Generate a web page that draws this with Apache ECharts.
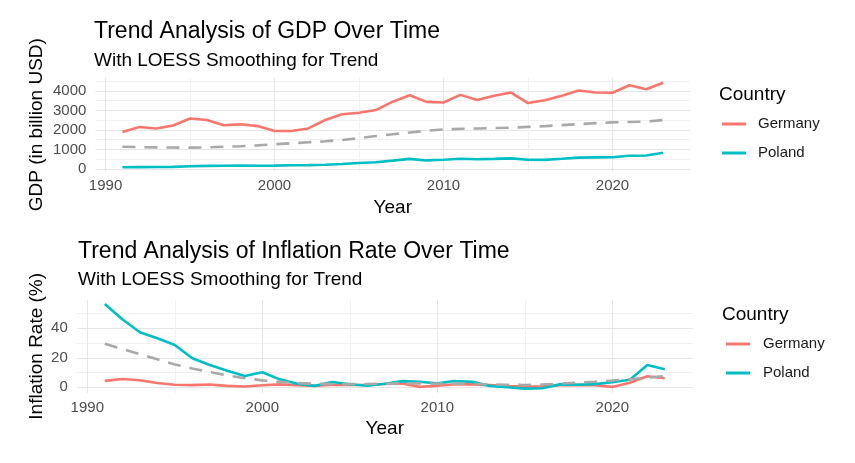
<!DOCTYPE html>
<html>
<head>
<meta charset="utf-8">
<script src="https://cdn.jsdelivr.net/npm/echarts@6/dist/echarts.min.js"></script>
<style>
html,body{margin:0;padding:0;background:#fff;}
#chart{width:855px;height:463px;}
</style>
</head>
<body>
<div id="chart"></div>
<script>
const years = [1991,1992,1993,1994,1995,1996,1997,1998,1999,2000,2001,2002,2003,2004,2005,2006,2007,2008,2009,2010,2011,2012,2013,2014,2015,2016,2017,2018,2019,2020,2021,2022,2023];

const gdpGermany = [1900,2150,2080,2230,2590,2510,2240,2290,2200,1950,1950,2080,2510,2810,2880,3020,3450,3780,3440,3410,3800,3540,3750,3920,3380,3520,3760,4020,3920,3910,4290,4090,4420];
const gdpPoland  = [90,95,100,110,145,160,165,180,170,175,195,200,220,255,305,345,430,520,440,475,525,500,520,545,475,470,525,585,595,600,680,690,830];
const gdpTrend   = [1140,1120,1110,1100,1095,1110,1140,1170,1210,1270,1320,1370,1420,1490,1580,1690,1780,1870,1960,2030,2060,2080,2100,2120,2160,2200,2250,2300,2350,2390,2410,2430,2510];

const inflGermany = [4.4,5.6,4.8,2.9,1.8,1.5,1.9,1.0,0.6,1.4,2.0,1.4,1.0,1.7,1.6,1.6,2.3,2.6,0.3,1.1,2.1,2.0,1.5,0.9,0.5,0.5,1.5,1.7,1.4,0.3,3.1,7.5,6.1];
const inflPoland  = [56.5,46.1,37.3,33.2,28.7,19.7,15.1,11.3,7.7,10.2,5.4,2.4,1.0,3.6,2.1,1.1,2.4,4.2,3.8,2.7,4.3,3.7,1.0,0.1,-0.9,-0.6,2.0,1.8,2.2,3.4,5.1,15.1,12.2];
const inflTrend   = [29.5,26.0,22.5,19.0,15.5,12.8,10.4,8.1,6.2,4.7,3.7,2.9,2.4,2.2,2.2,2.3,2.5,2.7,2.7,2.6,2.5,2.3,2.0,1.7,1.6,1.9,2.5,3.2,3.8,4.6,5.5,6.6,7.6];

const countries = ['Germany','Poland'];
const xTicks = [1990,1995,2000,2005,2010,2015,2020];
const xLabels = [1990,2000,2010,2020];
const gdpTicks = [0,500,1000,1500,2000,2500,3000,3500,4000,4500];
const gdpLabels = [0,1000,2000,3000,4000];
const inflTicks = [0,10,20,30,40,50];
const inflLabels = [0,20,40];

const pairs = (vals) => years.map((y,i) => [y, vals[i]]);

const FONT = 'Liberation Sans, Arial, sans-serif';
const RED = '#F8766D', CYAN = '#00BFC4', GREY = '#A9A9A9';
const gridColors = ['#e6e6e6','#f1f1f1'];
const plain = (v) => String(v);

function xAxisCfg(gridIndex, nameGap){
  return {
    type:'value', gridIndex, min:1989.4, max:2024.6,
    name:'Year', nameLocation:'middle', nameGap,
    nameTextStyle:{fontFamily:FONT,fontSize:19,color:'#000',lineHeight:19},
    axisLine:{show:false},
    axisTick:{show:false, customValues:xTicks},
    axisLabel:{customValues:xLabels, formatter:plain, fontFamily:FONT, fontSize:15, color:'#4d4d4d', margin:7, lineHeight:15},
    splitLine:{show:true, lineStyle:{color:gridColors, width:1}}
  };
}
function yAxisCfg(gridIndex, name, min, max, ticks, labels, nameGap){
  return {
    type:'value', gridIndex, min, max,
    name, nameLocation:'middle', nameGap, nameRotate:90, nameMoveOverlap:false,
    nameTextStyle:{fontFamily:FONT,fontSize:19,color:'#000',lineHeight:19},
    axisLine:{show:false},
    axisTick:{show:false, customValues:ticks},
    axisLabel:{customValues:labels, formatter:plain, fontFamily:FONT, fontSize:15, color:'#4d4d4d', margin:9},
    splitLine:{show:true, lineStyle:{color:gridColors, width:1}}
  };
}
function lineSeries(name, data, color, xi, dashed){
  return {
    type:'line', name, xAxisIndex:xi, yAxisIndex:xi, data,
    symbol:'none', silent:true, animation:false, z: dashed ? 3 : 2,
    lineStyle:{color, width:2.6, type: dashed ? [13,9] : 'solid'},
    itemStyle:{color}
  };
}
const titleStyle = (size) => ({fontFamily:FONT, fontSize:size, fontWeight:'normal', color:'#000', lineHeight:size});
const legendIcon = 'path://M0,0 L24,0 L24,3 L0,3 Z';

const option = {
  backgroundColor:'#fff',
  animation:false,
  title:[
    {text:'Trend Analysis of GDP Over Time', left:94, top:20, padding:0, textStyle:titleStyle(23)},
    {text:'With LOESS Smoothing for Trend', left:94, top:51, padding:0, textStyle:titleStyle(19)},
    {text:'Trend Analysis of Inflation Rate Over Time', left:78, top:240, padding:0, textStyle:titleStyle(23)},
    {text:'With LOESS Smoothing for Trend', left:78, top:270, padding:0, textStyle:titleStyle(19)},
    {text:'Country', left:719, top:85, padding:0, textStyle:titleStyle(19)},
    {text:'Country', left:722, top:305, padding:0, textStyle:titleStyle(19)}
  ],
  legend:[
    {data:countries, orient:'vertical', left:722, top:115, padding:0, itemWidth:24, itemHeight:18, itemGap:11,
     icon:legendIcon, selectedMode:false,
     textStyle:{fontFamily:FONT, fontSize:15, color:'#1a1a1a', lineHeight:18, padding:[0,0,0,7]}},
    {data:countries, orient:'vertical', left:726, top:335, padding:0, itemWidth:24, itemHeight:18, itemGap:11,
     icon:legendIcon, selectedMode:false,
     textStyle:{fontFamily:FONT, fontSize:15, color:'#1a1a1a', lineHeight:18, padding:[0,0,0,8]}}
  ],
  grid:[
    {left:95.4, right:164.8, top:77.8, height:93.8},
    {left:76.8, right:162.2, top:299.7, height:93.2}
  ],
  xAxis:[ xAxisCfg(0, 27), xAxisCfg(1, 26) ],
  yAxis:[
    yAxisCfg(0, 'GDP (in billion USD)', -133, 4675, gdpTicks, gdpLabels, 49),
    yAxisCfg(1, 'Inflation Rate (%)', -3.77, 59.37, inflTicks, inflLabels, 31)
  ],
  series:[
    lineSeries('Germany', pairs(gdpGermany), RED, 0, false),
    lineSeries('Poland', pairs(gdpPoland), CYAN, 0, false),
    lineSeries('LOESS trend', pairs(gdpTrend), GREY, 0, true),
    lineSeries('Germany', pairs(inflGermany), RED, 1, false),
    lineSeries('Poland', pairs(inflPoland), CYAN, 1, false),
    lineSeries('LOESS trend', pairs(inflTrend), GREY, 1, true)
  ]
};
const chart = echarts.init(document.getElementById('chart'), null, {renderer:'canvas'});
chart.setOption(option);
</script>
</body>
</html>
